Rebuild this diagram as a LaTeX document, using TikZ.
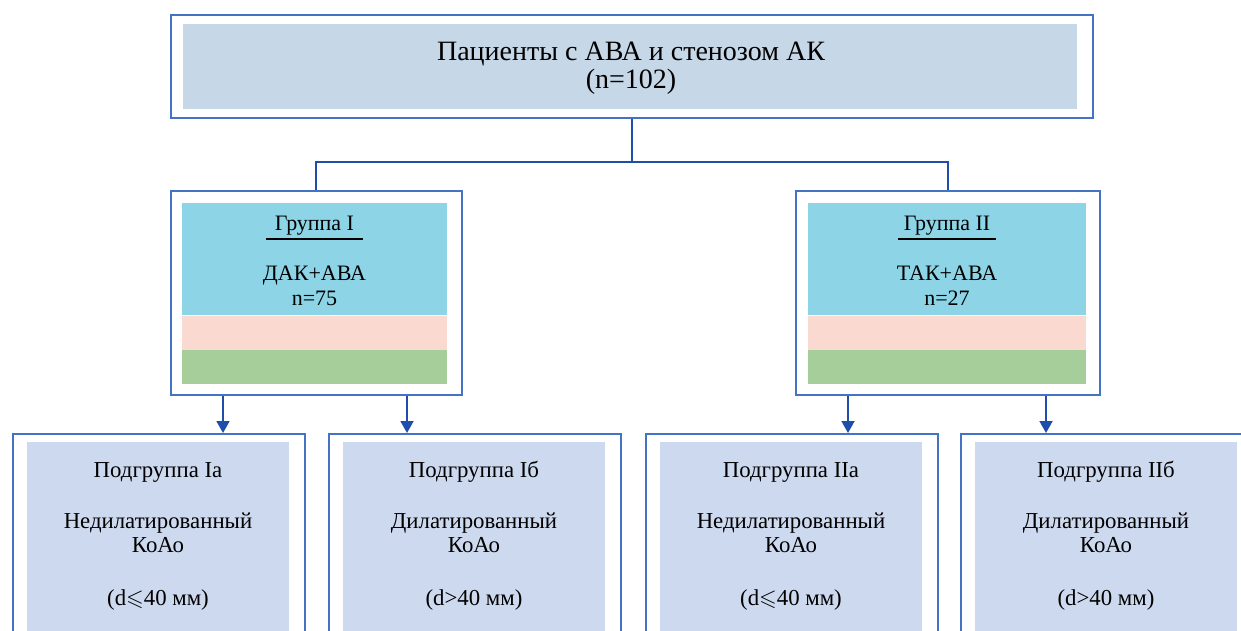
\documentclass[tikz,border=0pt]{standalone}
\usepackage{amssymb}
\usepackage{fontspec}
\setmainfont{Liberation Serif}
\usetikzlibrary{arrows.meta}
\definecolor{framecol}{HTML}{4472C4}
\definecolor{linkcol}{HTML}{1F4EAA}
\definecolor{topfill}{HTML}{C6D7E7}
\definecolor{grpfill}{HTML}{8CD4E6}
\definecolor{pinkfill}{HTML}{FAD9D0}
\definecolor{greenfill}{HTML}{A5CE9B}
\definecolor{subfill}{HTML}{CDD9EE}
\begin{document}
\begin{tikzpicture}[x=1pt,y=-1pt,
  frame/.style={draw=framecol,line width=2pt,anchor=north west,inner sep=0pt},
  band/.style={anchor=north west,inner sep=0pt},
  link/.style={draw=linkcol,line width=1.8pt},
  arr/.style={link,-{Triangle[width=13pt,length=12pt]}},
  txt/.style={anchor=base,align=center,inner sep=0pt}]
  \useasboundingbox (0,0) rectangle (1241,631);
  \clip (0,0) rectangle (1241,631);
  % all patients
  \node[frame,minimum width=922pt,minimum height=103pt] (patbox) at (170,14) {};
  \node[band,fill=topfill,minimum width=894pt,minimum height=85pt] (patfill) at (183,24) {};
  \node[txt,font=\fontsize{28}{28}\selectfont] (pattxt) at (631,89) {Пациенты с АВА и стенозом АК\\(n=102)};
  % groups
  \node[frame,minimum width=291pt,minimum height=204pt] (grpA) at (169.5,190) {};
  \node[band,fill=grpfill,minimum width=265pt,minimum height=112pt] (grpAtop) at (182,203) {};
  \node[band,fill=pinkfill,minimum width=265pt,minimum height=34pt] (grpAmid) at (grpAtop.south west) {};
  \node[band,fill=greenfill,minimum width=265pt,minimum height=34pt] (grpAbot) at (grpAmid.south west) {};
  \node[frame,minimum width=304pt,minimum height=204pt] (grpB) at (795,190) {};
  \node[band,fill=grpfill,minimum width=278pt,minimum height=112pt] (grpBtop) at (808,203) {};
  \node[band,fill=pinkfill,minimum width=278pt,minimum height=34pt] (grpBmid) at (grpBtop.south west) {};
  \node[band,fill=greenfill,minimum width=278pt,minimum height=34pt] (grpBbot) at (grpBmid.south west) {};
  \node[txt,font=\fontsize{22}{25}\selectfont] (grpAttl) at (314.5,230) {Группа I};
  \node[txt,font=\fontsize{22}{25}\selectfont] (grpAtxt) at (314.5,305) {ДАК+АВА\\n=75};
  \node[txt,font=\fontsize{22}{25}\selectfont] (grpBttl) at (947,230) {Группа II};
  \node[txt,font=\fontsize{22}{25}\selectfont] (grpBtxt) at (947,305) {ТАК+АВА\\n=27};
  \draw[line width=1.2pt] (266,239) -- (363,239);
  \draw[line width=1.2pt] (898,239) -- (996,239);
  % subgroups
  \foreach \nm/\xx/\ttl/\kind/\lim in {subA/12/Подгруппа Ia/Недилатированный/$\leqslant$,
      subB/328/Подгруппа Iб/Дилатированный/>,
      subC/645/Подгруппа IIа/Недилатированный/$\leqslant$,
      subD/960/Подгруппа IIб/Дилатированный/>}{
    \node[frame,minimum width=292pt,minimum height=230pt] (\nm) at (\xx,433) {};
    \node[band,fill=subfill,minimum width=262pt,minimum height=210pt] (\nm fill) at (\xx+15,442) {};
    \node[txt,font=\fontsize{22.8}{24}\selectfont] (\nm txt) at (\xx+146,605)
      {\ttl\\[27pt]\kind\\КоАо\\[29pt](d\lim40 мм)};
  }
  % connectors
  \draw[link] (patbox.south) -- ++(0,43) coordinate (fork);
  \draw[link] (grpA.north) |- (fork) -| (grpB.north);
  \draw[arr] ([xshift=53.5pt]grpA.south west) -- ([xshift=53.5pt]grpA.south west |- subA.north);
  \draw[arr] ([xshift=237.5pt]grpA.south west) -- ([xshift=237.5pt]grpA.south west |- subB.north);
  \draw[arr] ([xshift=53pt]grpB.south west) -- ([xshift=53pt]grpB.south west |- subC.north);
  \draw[arr] ([xshift=251pt]grpB.south west) -- ([xshift=251pt]grpB.south west |- subD.north);
\end{tikzpicture}
\end{document}
